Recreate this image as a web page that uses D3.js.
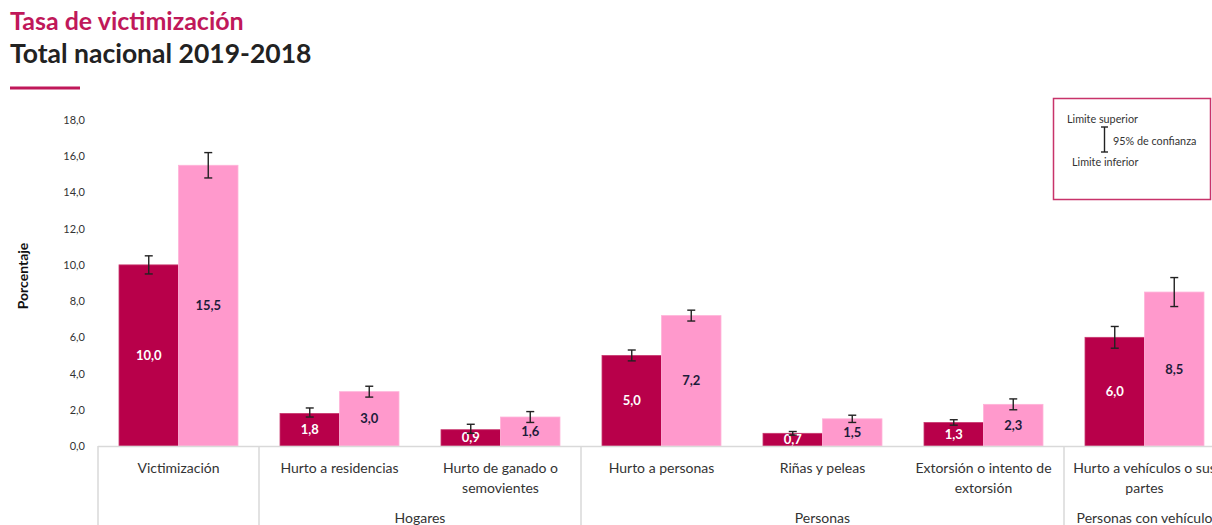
<!DOCTYPE html>
<html><head><meta charset="utf-8">
<script src="https://cdn.jsdelivr.net/npm/d3@7"></script>
<style>body{margin:0;background:#fff;} svg{display:block;}</style>
</head><body>
<svg id="c" width="1212" height="525"></svg>
<script>
const categories = ["Victimización","Hurto a residencias","Hurto de ganado o semovientes","Hurto a personas","Riñas y peleas","Extorsión o intento de extorsión","Hurto a vehículos o sus partes"];
const categoryLines = [["Victimización"],["Hurto a residencias"],["Hurto de ganado o","semovientes"],["Hurto a personas"],["Riñas y peleas"],["Extorsión o intento de","extorsión"],["Hurto a vehículos o sus","partes"]];
const groups = [{name:"",n:1},{name:"Hogares",n:2},{name:"Personas",n:3},{name:"Personas con vehículo",n:1}];
const series = ["s1","s2"];
const values1 = [10.0,1.8,0.9,5.0,0.7,1.3,6.0];
const values2 = [15.5,3.0,1.6,7.2,1.5,2.3,8.5];
const low1 = [9.5,1.6,0.7,4.7,0.6,1.15,5.4];
const high1 = [10.5,2.1,1.2,5.3,0.8,1.45,6.6];
const low2 = [14.8,2.7,1.3,6.9,1.3,2.0,7.7];
const high2 = [16.2,3.3,1.9,7.5,1.7,2.6,9.3];
const yTicks = [0,2,4,6,8,10,12,14,16,18];
const colors = {s1:"#b8004a", s2:"#ff99cc"};
const labelColors = {s1:"#ffffff", s2:"#1c1c3a"};

const svg = d3.select("#c");
const font = "Lato, 'Open Sans', sans-serif";

// titles
svg.append("text").attr("x",10).attr("y",30).attr("font-family",font).attr("font-weight",700)
  .attr("font-size",25).attr("fill","#c0185a").text("Tasa de victimización");
svg.append("text").attr("x",10).attr("y",63).attr("font-family",font).attr("font-weight",700)
  .attr("font-size",26.5).attr("fill","#222").text("Total nacional 2019-2018");
svg.append("line").attr("x1",10).attr("x2",80).attr("y1",88).attr("y2",88)
  .attr("stroke","#c0185a").attr("stroke-width",3);

const y = d3.scaleLinear().domain([0,18]).range([446,120]);
const x0 = d3.scaleBand().domain(categories).range([98,98+161*7]).padding(0);
const x1 = d3.scaleBand().domain(series).range([21,140]).padding(0);

// y axis labels
const yAxis = d3.axisLeft(y).tickValues(yTicks).tickSize(0).tickPadding(0)
  .tickFormat(d => d3.format(".1f")(d).replace(".",","));
const ga = svg.append("g").attr("transform","translate(85,0)").call(yAxis);
ga.select(".domain").remove();
ga.selectAll("text").attr("font-family",font).attr("font-size",11).attr("fill","#333");

svg.append("text").attr("transform","translate(28,276) rotate(-90)").attr("text-anchor","middle")
  .attr("font-family",font).attr("font-weight",700).attr("font-size",14).attr("fill","#111").text("Porcentaje");

// bars
const data = categories.map((c,i)=>({c, vals:[
  {s:"s1",v:values1[i],lo:low1[i],hi:high1[i]},
  {s:"s2",v:values2[i],lo:low2[i],hi:high2[i]}]}));
const gc = svg.selectAll("g.cat").data(data).join("g").attr("class","cat")
  .attr("transform",d=>`translate(${x0(d.c)},0)`);
gc.selectAll("rect").data(d=>d.vals).join("rect")
  .attr("x",d=>x1(d.s)).attr("width",x1.bandwidth())
  .attr("y",d=>y(d.v)).attr("height",d=>y(0)-y(d.v))
  .attr("fill",d=>colors[d.s]).attr("stroke",d=>d.s==="s2"?"#ffb3d9":"#c93a70").attr("stroke-width",0.8);
gc.selectAll("text.val").data(d=>d.vals).join("text").attr("class","val")
  .attr("x",d=>x1(d.s)+x1.bandwidth()/2).attr("y",d=>(y(d.v)+y(0))/2+4.5)
  .attr("text-anchor","middle").attr("font-family",font).attr("font-weight",700).attr("font-size",13)
  .attr("fill",d=>labelColors[d.s]).text(d=>d3.format(".1f")(d.v).replace(".",","));
// error bars
const eb = gc.selectAll("g.eb").data(d=>d.vals).join("g").attr("class","eb")
  .attr("transform",d=>`translate(${x1(d.s)+x1.bandwidth()/2},0)`);
eb.append("line").attr("y1",d=>y(d.lo)).attr("y2",d=>y(d.hi)).attr("stroke","#222").attr("stroke-width",1.4);
eb.append("line").attr("x1",-4).attr("x2",4).attr("y1",d=>y(d.lo)).attr("y2",d=>y(d.lo)).attr("stroke","#222").attr("stroke-width",1.4);
eb.append("line").attr("x1",-4).attr("x2",4).attr("y1",d=>y(d.hi)).attr("y2",d=>y(d.hi)).attr("stroke","#222").attr("stroke-width",1.4);

// category axis
svg.append("line").attr("x1",98).attr("x2",1212).attr("y1",446.5).attr("y2",446.5).attr("stroke","#d9d9d9").attr("stroke-width",1.5);
let idx = 0;
const bounds = [0];
groups.forEach(g=>{ idx += g.n; bounds.push(idx); });
bounds.forEach(b=>{
  const bx = b<categories.length ? x0(categories[b]) : x0.range()[1];
  svg.append("line").attr("x1",bx).attr("x2",bx).attr("y1",446).attr("y2",525).attr("stroke","#d9d9d9").attr("stroke-width",1.5);
});
categories.forEach((c,i)=>{
  const t = svg.append("text").attr("text-anchor","middle").attr("font-family",font).attr("font-size",14).attr("fill","#333");
  categoryLines[i].forEach((ln,j)=>t.append("tspan").attr("x",x0(c)+x0.bandwidth()/2).attr("y",473+j*20).text(ln));
});
idx = 0;
groups.forEach(g=>{
  const a = x0(categories[idx]);
  const b = a + g.n*x0.bandwidth();
  idx += g.n;
  if (g.name) svg.append("text").attr("x",(a+b)/2).attr("y",523).attr("text-anchor","middle")
    .attr("font-family",font).attr("font-size",14).attr("fill","#333").text(g.name);
});

// legend box
const lg = svg.append("g");
lg.append("rect").attr("x",1053.5).attr("y",98.5).attr("width",157).attr("height",101)
  .attr("fill","#fff").attr("stroke","#c8336a").attr("stroke-width",1.5);
lg.append("text").attr("x",1067).attr("y",123).attr("font-family",font).attr("font-size",10.8).attr("fill","#333").text("Limite superior");
lg.append("text").attr("x",1113).attr("y",145).attr("font-family",font).attr("font-size",10.8).attr("fill","#333").text("95% de confianza");
lg.append("text").attr("x",1072).attr("y",166).attr("font-family",font).attr("font-size",10.8).attr("fill","#333").text("Limite inferior");
lg.append("line").attr("x1",1104.5).attr("x2",1104.5).attr("y1",127).attr("y2",152).attr("stroke","#222").attr("stroke-width",1.4);
lg.append("line").attr("x1",1101).attr("x2",1108).attr("y1",127).attr("y2",127).attr("stroke","#222").attr("stroke-width",1.4);
lg.append("line").attr("x1",1101).attr("x2",1108).attr("y1",152).attr("y2",152).attr("stroke","#222").attr("stroke-width",1.4);
</script>
</body></html>
